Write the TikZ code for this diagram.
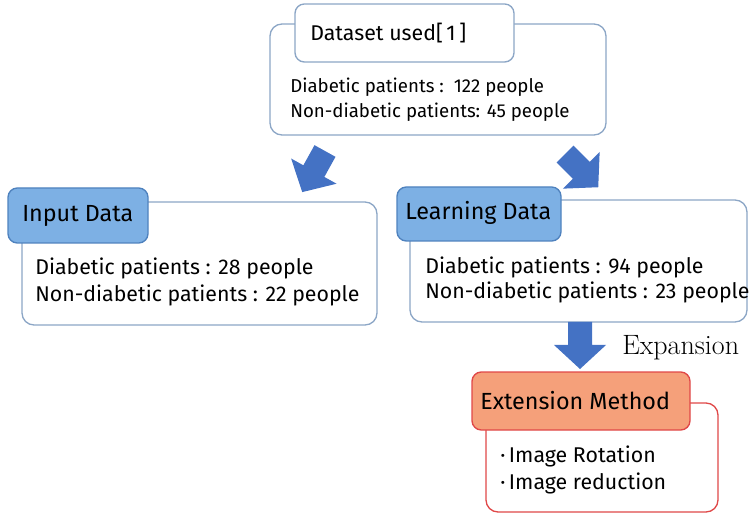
\documentclass[tikz,border=0pt]{standalone}
\usepackage{fontspec}
\newfontfamily\boxfont{Fira Sans}
\usetikzlibrary{fit}
\definecolor{arrowblue}{HTML}{4472C4}
\definecolor{titleblue}{HTML}{7DB0E4}
\definecolor{titleline}{HTML}{4F82BE}
\definecolor{outerline}{HTML}{8CA6C6}
\definecolor{titleorange}{HTML}{F5A07A}
\definecolor{redline}{HTML}{E04848}
\begin{document}
\begin{tikzpicture}[
  x=0.75pt,y=-0.75pt,
  every node/.style={font=\boxfont\fontsize{16}{18}\selectfont,inner sep=0pt},
  outer/.style={draw=outerline,line width=1pt,rounded corners=9pt,fill=white},
  title/.style={draw=titleline,line width=1pt,rounded corners=7pt,fill=titleblue},
  line/.style={anchor=west},
  small/.style={anchor=west,font=\boxfont\fontsize{14}{16}\selectfont},
  head/.style={anchor=west,font=\boxfont\fontsize{17.5}{20}\selectfont},
  bigarrow/.pic={\fill[arrowblue] (-12,0) -- (-12,23) -- (-26,23) -- (0,47)
    -- (26,23) -- (12,23) -- (12,0) -- cycle;}]
  \useasboundingbox (0,0) rectangle (749,516);

  % dataset
  \node[outer,fit={(270,24) (606,135)}] (dsbox) {};
  \node[title,fill=white,draw=outerline,fit={(295,4) (514,62)}] (dstitle) {};
  \node[head,font=\boxfont\fontsize{16}{19}\selectfont] (dsname) at (310,33) {Dataset used[\,1\,]};
  \node[small] (dsa) at (290,87) {Diabetic patients :\ \ 122 people};
  \node[small] (dsb) at (290,112) {Non-diabetic patients: 45 people};

  % input data
  \node[outer,fit={(22,202) (377,325)}] (inbox) {};
  \node[title,fit={(8,188) (148,243)}] (intitle) {};
  \node[head] (inname) at (22,216) {Input Data};
  \node[line] (ina) at (35,268) {Diabetic patients : 28 people};
  \node[line] (inb) at (35,295) {Non-diabetic patients : 22 people};

  % learning data
  \node[outer,fit={(410,200) (747,322)}] (lnbox) {};
  \node[title,fit={(397,187) (561,241)}] (lntitle) {};
  \node[head] (lnname) at (405,213) {Learning Data};
  \node[line] (lna) at (425,267) {Diabetic patients : 94 people};
  \node[line] (lnb) at (425,292) {Non-diabetic patients : 23 people};

  % extension method
  \node[outer,draw=redline,fit={(486,403) (718,512)}] (exbox) {};
  \node[title,draw=redline,fill=titleorange,fit={(472,372) (690,430)}] (extitle) {};
  \node[head] (exname) at (480,401) {Extension Method};
  \node[line] (exa) at (500,456) {·\,Image Rotation};
  \node[line] (exb) at (500,483) {·\,Image reduction};
  \node[line,font=\rmfamily\fontsize{21}{24}\selectfont] (expand) at (622,348) {Expansion};

  % block arrows
  \pic[rotate=-29] at (325,151) {bigarrow};
  \pic[rotate=45] at (565,154) {bigarrow};
  \pic at (580,322) {bigarrow};
\end{tikzpicture}
\end{document}
